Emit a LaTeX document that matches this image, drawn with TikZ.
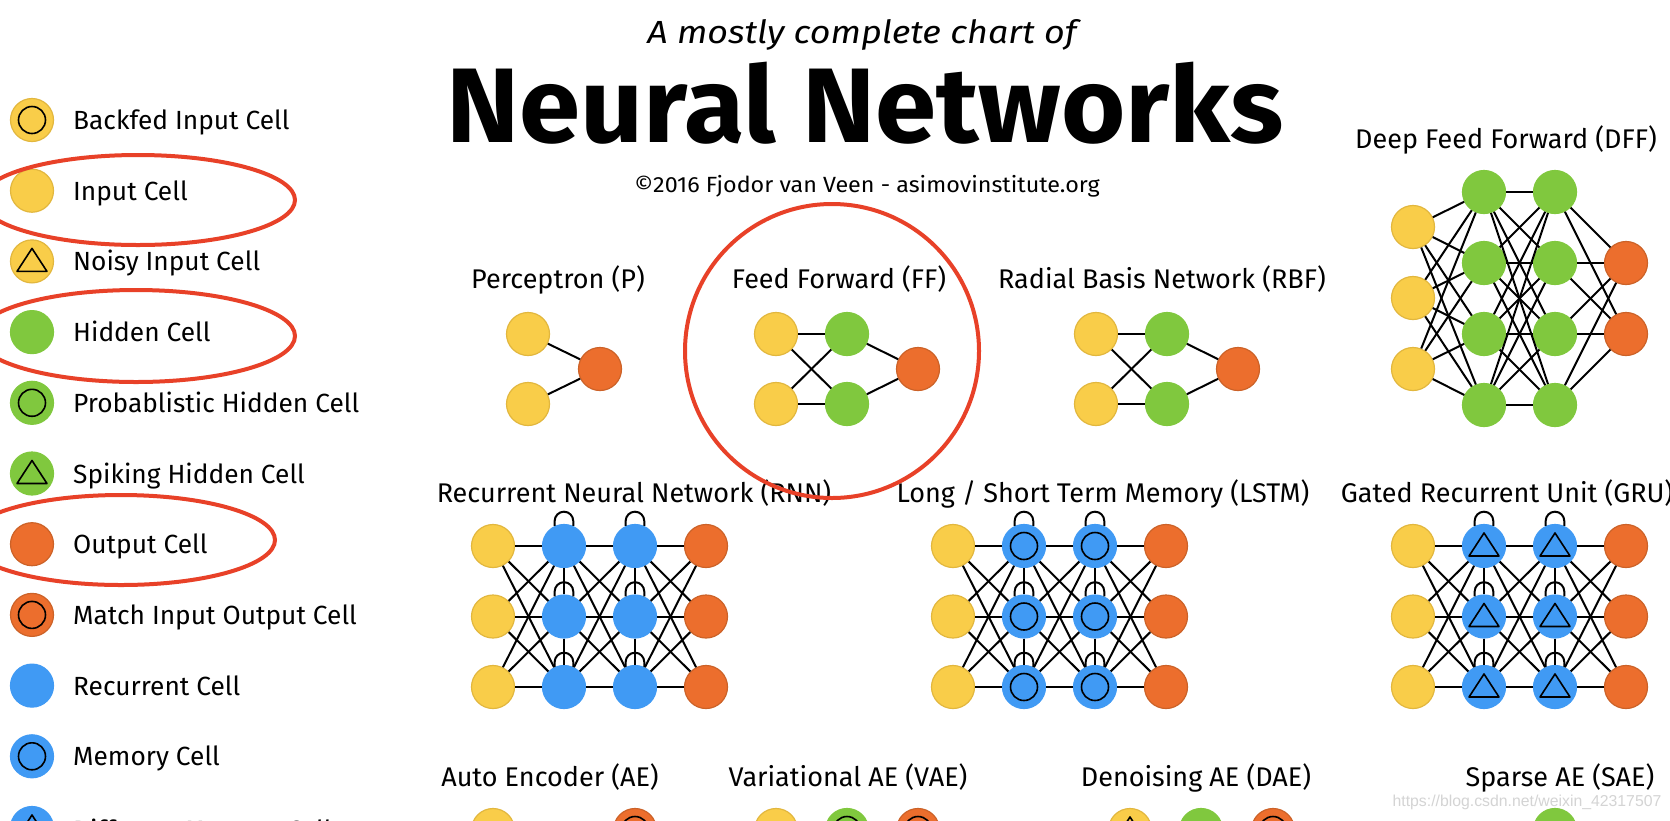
\documentclass[tikz,border=0pt]{standalone}
\usepackage{fontspec}
\setmainfont{Fira Sans}
\newfontfamily\markfont{Liberation Sans}
\usetikzlibrary{calc,positioning}
\definecolor{cellYellow}{RGB}{249,205,73}
\definecolor{cellYellowLine}{RGB}{226,183,62}
\definecolor{cellGreen}{RGB}{128,200,62}
\definecolor{cellOrange}{RGB}{236,110,45}
\definecolor{cellOrangeLine}{RGB}{204,98,40}
\definecolor{cellBlue}{RGB}{64,154,244}
\definecolor{markRed}{RGB}{232,65,40}
\definecolor{markGray}{RGB}{212,212,212}
\tikzset{
myCell/.style={
	circle, minimum size=43pt, inner sep=0pt, line width=1.2pt
}
, myIn/.style={myCell, fill=cellYellow, draw=cellYellowLine}
, myHid/.style={myCell, fill=cellGreen, draw=cellGreen}
, myOut/.style={myCell, fill=cellOrange, draw=cellOrangeLine}
, myRec/.style={myCell, fill=cellBlue, draw=cellBlue}
% inner marks
, myRing/.style={
	path picture = {
		\draw[black, line width=1.6pt] (path picture bounding box.center) circle[radius=13.5pt];
	}
}
, myTri/.style={
	path picture = {
		\draw[black, line width=1.6pt, line join=round, shift={(path picture bounding box.center)}]
		(0,13) -- (15,-10) -- (-15,-10) -- cycle;
	}
}
% links
, myEdge/.style={black, line width=2pt}
, myMark/.style={markRed, line width=4pt}
% texts
, myTitle/.style={anchor=base, inner sep=0pt, font=\fontsize{27}{30}\selectfont}
, myLegText/.style={anchor=base west, inner sep=0pt, font=\fontsize{26.3}{30}\selectfont}
}
% recurrent net: #1 prefix, #2 x of input column, #3 cell mark
\newcommand{\recNet}[3]{%
	\foreach \r/\y in {1/-546,2/-616.5,3/-687}{
		\node[myIn] (#1I\r) at (#2,\y) {};
		\node[myRec,#3] (#1A\r) at (#2+71,\y) {};
		\node[myRec,#3] (#1B\r) at (#2+142,\y) {};
		\node[myOut] (#1O\r) at (#2+213,\y) {};
	}
	\foreach \i in {1,2,3}{\foreach \j in {1,2,3}{
		\draw[myEdge] (#1I\i) -- (#1A\j);
		\draw[myEdge] (#1A\i) -- (#1B\j);
		\draw[myEdge] (#1B\i) -- (#1O\j);
	}}
	\foreach \i/\j in {1/2,2/3}{
		\draw[myEdge] (#1A\i) -- (#1A\j);
		\draw[myEdge] (#1B\i) -- (#1B\j);
	}
	\foreach \i in {1,2,3}{
		\draw[myEdge] (#1A\i.115) -- ++(0,5) arc[start angle=180, end angle=0, radius=9.3pt] -- (#1A\i.65);
		\draw[myEdge] (#1B\i.115) -- ++(0,5) arc[start angle=180, end angle=0, radius=9.3pt] -- (#1B\i.65);
	}
}

\begin{document}
\begin{tikzpicture}[x=1pt,y=1pt]
	\useasboundingbox (0,0) rectangle (1670,-820);
	\fill[white] (0,0) rectangle (1670,-820);
	\clip (0,0) rectangle (1670,-820);

	% heading
	\node[anchor=base, inner sep=0pt, xscale=1.12, transform shape] (ChartSub) at (862,-43) {\fontsize{32}{36}\selectfont\itshape A mostly complete chart of};
	\node[anchor=base, inner sep=0pt, xscale=1.04, transform shape] (ChartTitle) at (865,-142) {\fontsize{106}{110}\selectfont\bfseries Neural Networks};
	\node[anchor=base, inner sep=0pt, xscale=1.06, transform shape] (ChartCopy) at (867,-192) {\fontsize{22}{26}\selectfont ©2016 Fjodor van Veen - asimovinstitute.org};

	% legend
	\node[myIn,myRing] (LegBackfed) at (32,-120) {};
	\node[myLegText] (LegBackfedTxt) at (73,-129.5) {Backfed Input Cell};
	\node[myIn] (LegInput) at (32,-190.7) {};
	\node[myLegText] (LegInputTxt) at (73,-200.2) {Input Cell};
	\node[myIn,myTri] (LegNoisy) at (32,-261.4) {};
	\node[myLegText] (LegNoisyTxt) at (73,-270.9) {Noisy Input Cell};
	\node[myHid] (LegHidden) at (32,-332.1) {};
	\node[myLegText] (LegHiddenTxt) at (73,-341.6) {Hidden Cell};
	\node[myHid,myRing] (LegProb) at (32,-402.8) {};
	\node[myLegText] (LegProbTxt) at (73,-412.3) {Probablistic Hidden Cell};
	\node[myHid,myTri] (LegSpike) at (32,-473.5) {};
	\node[myLegText] (LegSpikeTxt) at (73,-483) {Spiking Hidden Cell};
	\node[myOut] (LegOutput) at (32,-544.2) {};
	\node[myLegText] (LegOutputTxt) at (73,-553.7) {Output Cell};
	\node[myOut,myRing] (LegMatch) at (32,-614.9) {};
	\node[myLegText] (LegMatchTxt) at (73,-624.4) {Match Input Output Cell};
	\node[myRec] (LegRecurrent) at (32,-685.6) {};
	\node[myLegText] (LegRecurrentTxt) at (73,-695.1) {Recurrent Cell};
	\node[myRec,myRing] (LegMemory) at (32,-756.3) {};
	\node[myLegText] (LegMemoryTxt) at (73,-765.8) {Memory Cell};
	\node[myRec,myTri] (LegDiffMem) at (32,-828) {};
	\node[myLegText] (LegDiffMemTxt) at (73,-839.5) {Different Memory Cell};

	% titles
	\node[myTitle] (PTitle) at (558,-288) {Perceptron (P)};
	\node[myTitle] (FfTitle) at (839,-288) {Feed Forward (FF)};
	\node[myTitle] (RbfTitle) at (1162,-288) {Radial Basis Network (RBF)};
	\node[myTitle] (DffTitle) at (1506,-148) {Deep Feed Forward (DFF)};
	\node[myTitle] (RnnTitle) at (634,-502) {Recurrent Neural Network (RNN)};
	\node[myTitle] (LstmTitle) at (1103,-502) {Long / Short Term Memory (LSTM)};
	\node[myTitle] (GruTitle) at (1507,-502) {Gated Recurrent Unit (GRU)};
	\node[myTitle] (AeTitle) at (550,-786) {Auto Encoder (AE)};
	\node[myTitle] (VaeTitle) at (848,-786) {Variational AE (VAE)};
	\node[myTitle] (DaeTitle) at (1196,-786) {Denoising AE (DAE)};
	\node[myTitle] (SaeTitle) at (1560,-786) {Sparse AE (SAE)};

	% perceptron
	\node[myIn] (PI1) at (528,-334) {};
	\node[myIn] (PI2) at (528,-404) {};
	\node[myOut] (PO) at (600,-369) {};
	\draw[myEdge] (PI1) -- (PO);
	\draw[myEdge] (PI2) -- (PO);

	% feed forward, radial basis
	\foreach \p/\x in {Ff/776,Rbf/1096}{
		\node[myIn] (\p I1) at (\x,-334) {};
		\node[myIn] (\p I2) at (\x,-404) {};
		\node[myHid] (\p H1) at (\x+71,-334) {};
		\node[myHid] (\p H2) at (\x+71,-404) {};
		\node[myOut] (\p O) at (\x+142,-369) {};
		\foreach \i in {1,2}{
			\foreach \j in {1,2} \draw[myEdge] (\p I\i) -- (\p H\j);
			\draw[myEdge] (\p H\i) -- (\p O);
		}
	}

	% deep feed forward
	\foreach \r/\y in {1/-227,2/-298,3/-369} \node[myIn] (DffI\r) at (1413,\y) {};
	\foreach \r/\y in {1/-192,2/-263,3/-334,4/-405}{
		\node[myHid] (DffA\r) at (1484,\y) {};
		\node[myHid] (DffB\r) at (1555,\y) {};
	}
	\foreach \r/\y in {1/-263,2/-334} \node[myOut] (DffO\r) at (1626,\y) {};
	\foreach \i in {1,2,3} \foreach \j in {1,2,3,4} \draw[myEdge] (DffI\i) -- (DffA\j);
	\foreach \i in {1,2,3,4} \foreach \j in {1,2,3,4} \draw[myEdge] (DffA\i) -- (DffB\j);
	\foreach \i in {1,2,3,4} \foreach \j in {1,2} \draw[myEdge] (DffB\i) -- (DffO\j);

	% recurrent nets
	\recNet{Rnn}{493}{}
	\recNet{Lstm}{953}{myRing}
	\recNet{Gru}{1413}{myTri}

	% auto encoders (cut by the page edge)
	\node[myIn] (AeI) at (493,-830) {};
	\node[myOut,myRing] (AeO) at (635,-830) {};
	\node[myIn] (VaeI) at (776,-830) {};
	\node[myHid,myRing] (VaeH) at (847,-830) {};
	\node[myOut,myRing] (VaeO) at (918,-830) {};
	\node[myIn,myTri] (DaeI) at (1130,-830) {};
	\node[myHid] (DaeH) at (1201,-830) {};
	\node[myOut,myRing] (DaeO) at (1273,-830) {};
	\node[myHid] (SaeH) at (1555,-830) {};

	\node[anchor=base, inner sep=0pt, text=markGray, font=\markfont\fontsize{15.8}{18}\selectfont] (Watermark) at (1527,-806) {https://blog.csdn.net/weixin\_42317507};

	% highlights
	\draw[myMark] (138,-200) ellipse[x radius=157, y radius=45];
	\draw[myMark] (136,-336) ellipse[x radius=159, y radius=46];
	\draw[myMark] (121,-540) ellipse[x radius=154, y radius=45];
	\draw[myMark] (832,-351) circle[radius=147];
\end{tikzpicture}
\end{document}
